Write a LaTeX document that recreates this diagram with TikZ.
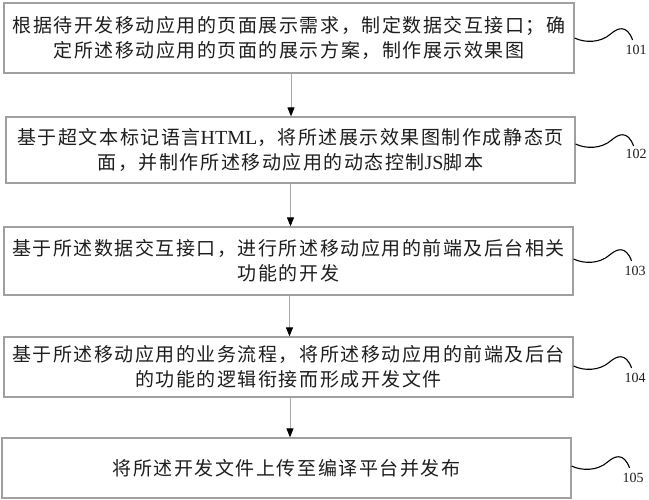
\documentclass[tikz,border=0pt]{standalone}
\usepackage{fontspec}
\setmainfont{Liberation Serif}
\newfontfamily\cjk[LetterSpace=8]{Noto Sans CJK SC}
\usetikzlibrary{arrows.meta}
\definecolor{boxgray}{HTML}{A0A0A0}
\definecolor{txt}{HTML}{1E1E1E}
\newcommand{\latinword}[1]{{\rmfamily\fontsize{20}{25}\selectfont #1}}
\tikzset{
  stepbox/.style={draw=boxgray, line width=1.2pt, rectangle, inner sep=0pt,
    align=center, text=txt, font=\cjk\fontsize{19}{25}\selectfont},
  flowarrow/.style={draw=boxgray!90, line width=1pt,
    -{Triangle[length=9pt,width=7pt,color=black]}},
  squig/.style={draw=black, line width=1.1pt},
  reflabel/.style={font=\fontsize{14}{15}\selectfont, text=txt, inner sep=0pt}
}
\begin{document}
\begin{tikzpicture}[x=1pt,y=-1pt]
\useasboundingbox (0,0) rectangle (649,500);
\fill[white] (0,0) rectangle (649,500);

\node[stepbox, minimum width=570pt, minimum height=70pt] (b1) at (289,38)
  {根据待开发移动应用的页面展示需求，制定数据交互接口；确\\定所述移动应用的页面的展示方案，制作展示效果图};
\node[stepbox, minimum width=569pt, minimum height=66pt] (b2) at (290.5,150)
  {基于超文本标记语言\latinword{HTML}，将所述展示效果图制作成静态页\\面，并制作所述移动应用的动态控制\latinword{JS}脚本};
\node[stepbox, minimum width=569pt, minimum height=68pt] (b3) at (288.5,261)
  {基于所述数据交互接口，进行所述移动应用的前端及后台相关\\功能的开发};
\node[stepbox, minimum width=569pt, minimum height=60pt] (b4) at (288.5,367)
  {基于所述移动应用的业务流程，将所述移动应用的前端及后台\\的功能的逻辑衔接而形成开发文件};
\node[stepbox, minimum width=569pt, minimum height=60pt] (b5) at (286.5,468)
  {将所述开发文件上传至编译平台并发布};

\draw[flowarrow] ([xshift=2pt]b1.south) -- ([xshift=2pt]b1.south |- b2.north);
\draw[flowarrow] (b2.south) -- (b2.south |- b3.north);
\draw[flowarrow] ([xshift=1pt]b3.south) -- ([xshift=1pt]b3.south |- b4.north);
\draw[flowarrow] ([xshift=1.5pt]b4.south) -- ([xshift=1.5pt]b4.south |- b5.north);

\node[reflabel] (l1) at (636,50) {101};
\node[reflabel] (l2) at (636,154) {102};
\node[reflabel] (l3) at (635,271) {103};
\node[reflabel] (l4) at (635,378) {104};
\node[reflabel] (l5) at (633,478) {105};

\draw[squig] ([yshift=0pt]b1.east) .. controls +(10,5) and +(-10,9) .. ++(36,-4)
  .. controls +(7,-6) and +(-6,-16) .. ++(22,6);
\draw[squig] ([yshift=6pt]b2.east) .. controls +(10,5) and +(-10,9) .. ++(36,-4)
  .. controls +(7,-6) and +(-6,-16) .. ++(22,6);
\draw[squig] ([yshift=2pt]b3.east) .. controls +(10,5) and +(-10,9) .. ++(36,-4)
  .. controls +(7,-6) and +(-6,-16) .. ++(22,6);
\draw[squig] ([yshift=1pt]b4.east) .. controls +(10,5) and +(-10,9) .. ++(36,-4)
  .. controls +(7,-6) and +(-6,-16) .. ++(22,6);
\draw[squig] ([yshift=2pt]b5.east) .. controls +(10,5) and +(-10,9) .. ++(36,-4)
  .. controls +(7,-6) and +(-6,-16) .. ++(22,6);
\end{tikzpicture}
\end{document}
